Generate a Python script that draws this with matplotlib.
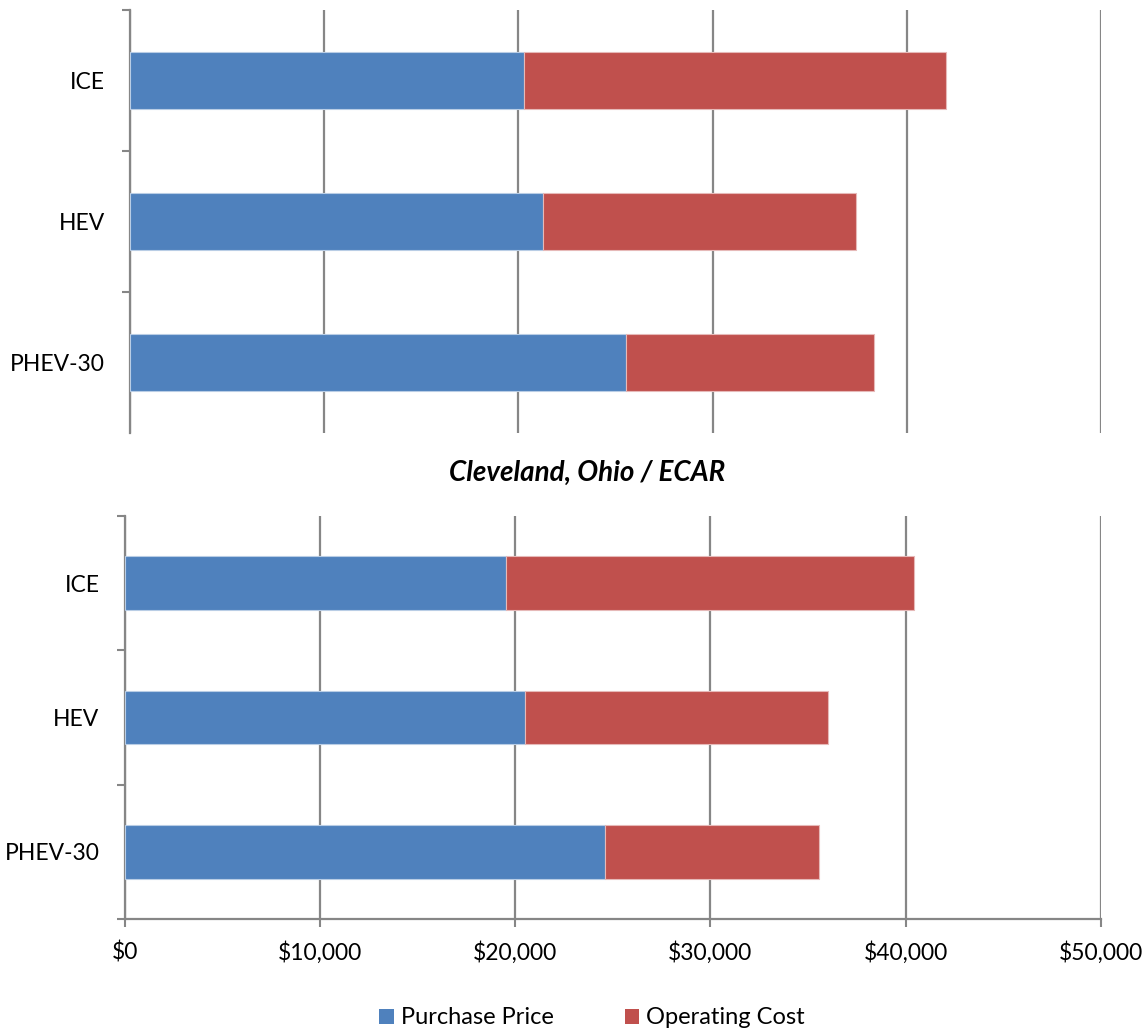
import matplotlib
matplotlib.use("Agg")
import matplotlib.pyplot as plt
from matplotlib.patches import Patch
from matplotlib.ticker import FixedLocator, FuncFormatter

plt.rcParams['font.family'] = ['Lato', 'DejaVu Sans']

categories = ["ICE", "HEV", "PHEV-30"]
series_names = ["Purchase Price", "Operating Cost"]

top_purchase = [20270, 21280, 25520]
top_operating = [21730, 16110, 12810]

bottom_title = "Cleveland, Ohio / ECAR"
bottom_purchase = [19550, 20500, 24590]
bottom_operating = [20860, 15520, 10950]

x_ticks = [0, 10000, 20000, 30000, 40000, 50000]

BLUE = "#4F81BD"
RED = "#C0504D"
GRID = "#868686"
FS = 16.5

W, H = 1145, 1032
fig = plt.figure(figsize=(W / 100, H / 100), dpi=100)

def px_axes(l, t, r, b):
    return fig.add_axes([l / W, 1 - b / H, (r - l) / W, (b - t) / H])

ax_top = px_axes(130, 10, 1101, 433)
ax_bot = px_axes(124.6, 516, 1101, 919)

def style(ax, purchase, operating, show_x):
    y = list(range(len(categories)))
    ax.barh(y, purchase, height=0.4, color=BLUE, edgecolor="#B9CDE5", linewidth=0.8, zorder=3)
    ax.barh(y, operating, left=purchase, height=0.4, color=RED, edgecolor="#E6B9B8", linewidth=0.8, zorder=3)
    ax.set_xlim(0, 50000)
    ax.set_ylim(2.5, -0.5)
    ax.set_yticks(y)
    ax.set_yticklabels(categories, fontsize=16.5)
    ax.tick_params(axis='y', which='major', length=0, pad=18)
    ax.yaxis.set_minor_locator(FixedLocator([-0.5, 0.5, 1.5, 2.5] if show_x else [-0.5, 0.5, 1.5]))
    ax.tick_params(axis='y', which='minor', length=6, width=1.5, color=GRID, direction='out')
    ax.xaxis.set_major_locator(FixedLocator(x_ticks))
    ax.grid(axis='x', color=GRID, linewidth=1.6, zorder=0)
    ax.set_axisbelow(True)
    for s in ("top", "right"):
        ax.spines[s].set_visible(False)
    ax.spines["left"].set_color(GRID)
    ax.spines["left"].set_linewidth(1.6)
    if show_x:
        ax.spines["bottom"].set_color(GRID)
        ax.spines["bottom"].set_linewidth(1.6)
        ax.xaxis.set_major_formatter(FuncFormatter(lambda v, p: "${:,.0f}".format(v)))
        ax.tick_params(axis='x', length=6, width=1.5, color=GRID, labelsize=FS, pad=10)
    else:
        ax.spines["bottom"].set_visible(False)
        ax.tick_params(axis='x', length=0, labelbottom=False)

style(ax_top, top_purchase, top_operating, False)
style(ax_bot, bottom_purchase, bottom_operating, True)

fig.text(587 / W, 1 - 473 / H, bottom_title, ha='center', va='center',
         fontsize=20, fontweight='bold', fontstyle='italic')

handles = [Patch(facecolor=BLUE, edgecolor='none'), Patch(facecolor=RED, edgecolor='none')]
fig.legend(handles, series_names, loc='center', bbox_to_anchor=(592 / W, 1 - 1018 / H),
           ncol=2, frameon=False, fontsize=17, handlelength=0.62, handleheight=0.62,
           handletextpad=0.3, columnspacing=3.0, borderaxespad=0)

fig.savefig("out.png", dpi=100)
